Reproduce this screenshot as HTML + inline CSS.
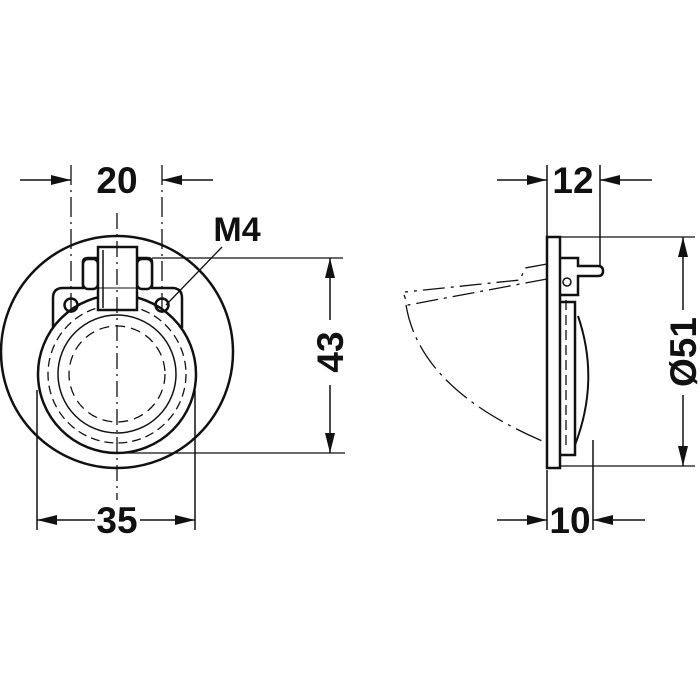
<!DOCTYPE html>
<html><head><style>
html,body{margin:0;padding:0;background:#fff;}
svg{display:block}
text{font-family:"Liberation Sans",Arial,sans-serif;font-weight:bold;fill:#111}
</style></head><body>
<svg width="700" height="700" viewBox="0 0 700 700" xmlns="http://www.w3.org/2000/svg">
<defs>
<marker id="ar" viewBox="0 0 20 10" refX="20" refY="5" markerWidth="20" markerHeight="10" markerUnits="userSpaceOnUse" orient="auto"><path d="M0,0 L20,5 L0,10 z" fill="#111"/></marker>
</defs>
<g stroke="#111" fill="none">
<!-- LEFT VIEW -->
<circle cx="117" cy="352" r="116" stroke-width="2.5"/>
<circle cx="117" cy="374" r="79" stroke-width="2.5"/>
<circle cx="117" cy="374" r="69" stroke-width="1.3" stroke-dasharray="9,5"/>
<circle cx="117" cy="374" r="59" stroke-width="1.5"/>
<circle cx="117" cy="374" r="48" stroke-width="1.3" stroke-dasharray="10,6"/>
<path d="M53,328 L53,298 Q53,288 63,288 L83,288 L83,262 Q83,258 88,258 L98,258 M137,258 L147,258 Q152,258 152,262 L152,288 L172,288 Q182,288 182,298 L182,328" stroke-width="2.5"/>
<rect x="83" y="259" width="15" height="30" rx="5" stroke-width="2.5" fill="#fff"/>
<rect x="137" y="259" width="15" height="30" rx="5" stroke-width="2.5" fill="#fff"/>
<rect x="98" y="247" width="39" height="63" stroke-width="2.5" fill="#fff"/>
<line x1="103" y1="250" x2="103" y2="308" stroke-width="1.5"/>
<line x1="98" y1="288" x2="137" y2="288" stroke-width="1"/>
<circle cx="71" cy="305" r="6.5" stroke-width="2.5"/>
<circle cx="162" cy="305" r="6.5" stroke-width="2.5"/>
<line x1="117" y1="213" x2="117" y2="500" stroke-width="1.3" stroke-dasharray="16,5,2,5"/>
<line x1="71" y1="165" x2="71" y2="315" stroke-width="1.3" stroke-dasharray="20,5,2,5"/>
<line x1="162" y1="165" x2="162" y2="315" stroke-width="1.3" stroke-dasharray="20,5,2,5"/>
<line x1="20" y1="180" x2="71" y2="180" stroke-width="1.5" marker-end="url(#ar)"/>
<line x1="213" y1="180" x2="162" y2="180" stroke-width="1.5" marker-end="url(#ar)"/>
<line x1="222" y1="247" x2="166" y2="305" stroke-width="1.3"/>
<line x1="152" y1="258" x2="343" y2="258" stroke-width="1.3"/>
<line x1="117" y1="453" x2="345" y2="453" stroke-width="1.3"/>
<line x1="330" y1="320" x2="330" y2="258" stroke-width="1.5" marker-end="url(#ar)"/>
<line x1="330" y1="385" x2="330" y2="453" stroke-width="1.5" marker-end="url(#ar)"/>
<line x1="37" y1="390" x2="37" y2="530" stroke-width="1.5"/>
<line x1="195" y1="390" x2="195" y2="530" stroke-width="1.5"/>
<line x1="95" y1="520" x2="37" y2="520" stroke-width="1.5" marker-end="url(#ar)"/>
<line x1="140" y1="520" x2="195" y2="520" stroke-width="1.5" marker-end="url(#ar)"/>
<!-- RIGHT VIEW -->
<rect x="547" y="237" width="13" height="231" stroke-width="2.5" fill="#fff"/>
<path d="M560,302 L575,302 L575,455 L560,455" stroke-width="2.5"/>
<path d="M578,316 Q600,380 575,445" stroke-width="2"/>
<path d="M560,258 L578,258 L578,266 L598,266 Q603,266 603,271 Q603,276 598,276 L578,276 L578,295 L560,295" stroke-width="2.5"/>
<circle cx="567" cy="282" r="4" stroke-width="1.5"/>
<line x1="566" y1="300" x2="566" y2="450" stroke-width="1.3" stroke-dasharray="10,5"/>
<path d="M547,264 L525,268 L520,280 L405,292" stroke-width="1.3" stroke-dasharray="22,6,3,6"/>
<path d="M547,279 L408,305 L404,295" stroke-width="1.3" stroke-dasharray="22,6,3,6"/>
<path d="M406,305 Q420,390 547,443" stroke-width="1.3" stroke-dasharray="28,6,3,6"/>
<line x1="547" y1="165" x2="547" y2="245" stroke-width="1.5"/>
<line x1="600" y1="165" x2="600" y2="266" stroke-width="1.5"/>
<line x1="497" y1="180" x2="547" y2="180" stroke-width="1.5" marker-end="url(#ar)"/>
<line x1="652" y1="180" x2="600" y2="180" stroke-width="1.5" marker-end="url(#ar)"/>
<line x1="560" y1="237" x2="695" y2="237" stroke-width="1.3"/>
<line x1="560" y1="466" x2="695" y2="466" stroke-width="1.3"/>
<line x1="683" y1="310" x2="683" y2="237" stroke-width="1.5" marker-end="url(#ar)"/>
<line x1="683" y1="395" x2="683" y2="466" stroke-width="1.5" marker-end="url(#ar)"/>
<line x1="547" y1="470" x2="547" y2="530" stroke-width="1.5"/>
<line x1="593" y1="440" x2="593" y2="530" stroke-width="1.5"/>
<line x1="497" y1="520" x2="547" y2="520" stroke-width="1.5" marker-end="url(#ar)"/>
<line x1="645" y1="520" x2="593" y2="520" stroke-width="1.5" marker-end="url(#ar)"/>
</g>
<text x="117" y="193" font-size="37" text-anchor="middle">20</text>
<text x="237" y="241" font-size="34" text-anchor="middle">M4</text>
<text x="117" y="533" font-size="37" text-anchor="middle">35</text>
<text transform="translate(343,352) rotate(-90)" font-size="37" text-anchor="middle">43</text>
<text x="573" y="193" font-size="37" text-anchor="middle">12</text>
<text x="570" y="533" font-size="37" text-anchor="middle">10</text>
<text transform="translate(696,352) rotate(-90)" font-size="37" text-anchor="middle">Ø51</text>
</svg>
</body></html>
